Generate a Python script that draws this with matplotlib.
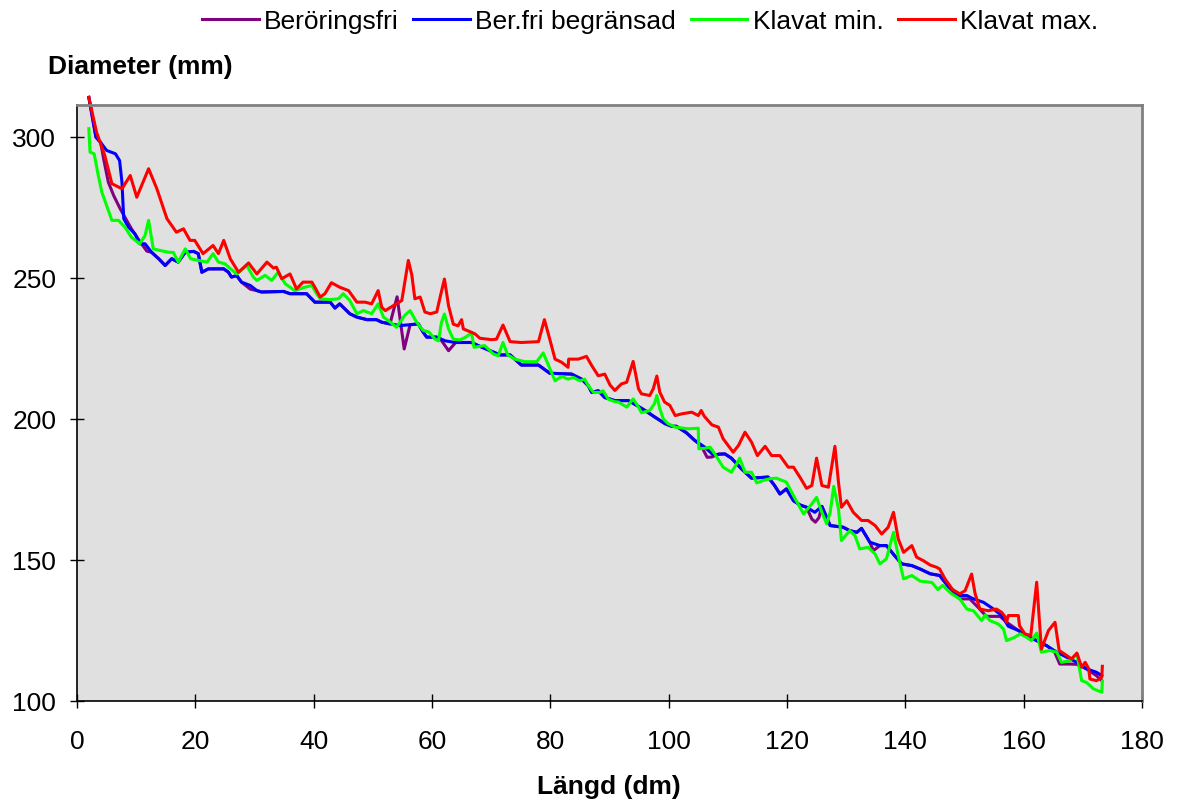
import matplotlib
matplotlib.use("Agg")
import matplotlib.pyplot as plt

plt.rcParams['font.family'] = ['Liberation Sans', 'DejaVu Sans']

# Beröringsfri (purple)
purple_x = [2, 3.2, 4, 4.5, 5.3, 6.2, 7.3, 8.4, 9.2, 10.6, 11.8, 12.6, 13.8, 14.9, 16, 17.1, 18.3, 19.7,
            20.5, 21.1, 22.2, 24.8, 25.6, 26.1, 27, 27.8, 29.3, 30.4, 31.2, 34.9, 36, 38.8, 40.2, 42.8,
            43.6, 44.4, 46.1, 47.3, 49, 50.6, 51.5, 52.9, 54.1, 55.3, 56.3, 57.7, 58.5, 59.1, 60.8,
            61.6, 62.8, 64, 66.7, 67.8, 69.8, 71.5, 73.2, 74, 75.1, 78, 79.9, 83.6, 85.3, 86.4, 87,
            88.1, 89.2, 90.9, 93.2, 94.6, 96, 97.7, 99.4, 100.5, 101.3, 103, 104.4, 105.5, 106.5,
            107.3, 108.5, 109.5, 110.6, 112.3, 114, 116.8, 117.9, 118.8, 119.9, 121.1, 122.2, 123.3,
            124.2, 124.8, 125.4, 125.9, 127.3, 129.5, 130.6, 131.8, 132.6, 134, 134.6, 135.7, 136.8,
            138.2, 139.4, 141.1, 142.5, 144.2, 145.8, 147.3, 149.2, 150.9, 152.3, 153.7, 156, 157.4,
            159.1, 160.5, 162.2, 163.9, 165.2, 166.1, 167.8, 169, 170.6, 172.3, 173.2]
purple_y = [314, 299.9, 298, 292.2, 283.9, 279.2, 274.5, 270.4, 267.4, 263, 259.5, 259.1, 256.8, 254.4,
            256.8, 255.6, 259.1, 259.4, 258.6, 252, 253.2, 253.2, 252, 250.3, 250.8, 248.5, 246, 245.5,
            245, 245.2, 244.4, 244.4, 241.4, 241.4, 239.3, 240.8, 237.3, 236.1, 235.2, 235.2, 234.3,
            233.7, 243.3, 224.8, 233.4, 233.7, 230.8, 229, 229, 227.8, 224.2, 227.1, 227.1, 226,
            224.2, 222.7, 222.7, 221.2, 219.1, 219.1, 216.2, 215.9, 214.1, 211.8, 209.4, 210, 207.6,
            206.5, 206.5, 204.8, 203, 200.6, 198.3, 197.4, 197.4, 195.1, 192.4, 190.5, 186.4, 186.5,
            187.6, 187.6, 186.1, 182.3, 179, 179.4, 176.4, 173.4, 175.2, 171, 169.5, 168.7, 164.5,
            163.4, 165, 169, 162.2, 161.6, 160.4, 159.8, 161.2, 156.3, 153.3, 155.1, 155.1, 151.5,
            148.6, 148, 146.8, 145.1, 144.5, 140.5, 136.2, 136.2, 133.2, 130, 130, 127.5, 125, 123.2,
            121.4, 119.6, 117.5, 113.1, 113.1, 113, 111.4, 109, 107.2]

# Ber.fri begränsad (blue)
blue_x = [2, 3.2, 4, 5, 6.5, 7.2, 7.6, 7.9, 8.7, 9.8, 10.6, 11.5, 12.6, 13.8, 14.9, 16, 17.1, 18.3,
          19.7, 20.5, 21.1, 22.2, 24.8, 25.6, 26.1, 27, 27.8, 29.3, 30.4, 31.2, 34.9, 36, 38.8, 40.2,
          42.8, 43.6, 44.4, 46.1, 47.3, 49, 50.6, 51.5, 52.9, 54.6, 56.3, 57.7, 58.5, 59.1, 60.8,
          62.2, 63.9, 66.7, 67.8, 69.8, 71.5, 73.2, 74, 75.1, 78, 79.9, 83.6, 85.3, 86.4, 87, 88.1,
          89.2, 90.9, 93.2, 94.6, 96, 97.7, 99.4, 100.5, 101.3, 103, 104.4, 106.1, 107.5, 109.5,
          110.6, 112.3, 114, 116.8, 117.9, 118.8, 119.9, 121.1, 122.2, 123.3, 124.7, 125.9, 127.3,
          129.5, 130.6, 131.8, 132.6, 134, 135.7, 136.8, 138.2, 139.4, 141.1, 142.5, 144.2, 145.8,
          147.3, 149.2, 150.4, 151.5, 153.2, 154.9, 156.3, 157.4, 159.1, 160.5, 162.2, 163.9, 165.6,
          167.3, 169, 170.6, 172.3, 173.2]
blue_y = [314, 299.9, 298, 295.2, 294, 291.6, 283.9, 271, 268, 265.6, 262.1, 262.1, 259.1, 256.8,
          254.4, 256.8, 255.6, 259.1, 259.4, 258.6, 252, 253.2, 253.2, 252, 250.3, 250.8, 248.5,
          247.3, 245.5, 245, 245.2, 244.4, 244.4, 241.4, 241.4, 239.3, 240.8, 237.3, 236.1, 235.2,
          235.2, 234.3, 233.7, 233.1, 233.4, 233.7, 230.8, 229, 229, 227.7, 227.1, 227.1, 226, 224.2,
          222.7, 222.7, 221.2, 219.1, 219.1, 216.2, 215.9, 214.1, 211.8, 209.4, 210, 207.6, 206.5,
          206.5, 204.8, 203, 200.6, 198.3, 197.4, 197.4, 195.1, 192.4, 190, 187.3, 187.6, 186.1,
          182.3, 179, 179.4, 176.4, 173.4, 175.2, 171, 169.5, 168.7, 166.9, 169, 162.2, 161.6, 160.4,
          159.8, 161.2, 156.3, 155.1, 155.1, 151.5, 148.6, 148, 146.8, 145.1, 144.5, 140.5, 137.4,
          137.4, 136.2, 135, 132.6, 130.3, 126.5, 125, 123.2, 121.4, 119.6, 117.3, 115.5, 113.7,
          111.4, 110.2, 109]

# Klavat min. (green)
green_x = [2, 2.2, 2.9, 3.6, 4.2, 5, 5.9, 7, 8.1, 9.2, 10.6, 11.5, 12.1, 12.9, 14.1, 15.5, 16.3, 17.1,
           18.3, 19.2, 20.5, 22, 23, 23.9, 25, 25.9, 27, 28.7, 29.8, 30.4, 31.8, 32.9, 34, 35.2, 36.8,
           38.5, 39.7, 40.5, 41.1, 42.8, 44.2, 45, 46.1, 47.3, 48.4, 49.8, 50.9, 51.8, 52.6, 54, 55.4,
           56.3, 57.4, 58.5, 59.5, 60.5, 61.1, 61.6, 62.1, 62.8, 63.6, 64.7, 65.6, 66.7, 67.1, 68.9,
           70.4, 71.2, 72, 72.8, 74, 75.7, 77.7, 78.8, 79.7, 80.8, 81.9, 83, 83.9, 85, 85.8, 86.4,
           87.3, 88.4, 88.9, 89.8, 90.9, 91.5, 92.9, 94, 94.9, 95.4, 96.8, 97.6, 98, 98.5, 99.1, 99.9,
           101.1, 103.3, 105, 105.1, 106.1, 107, 107.8, 109.2, 110.6, 111.5, 112, 112.9, 114, 114.9,
           116, 117.1, 118.2, 119.9, 121.1, 122.8, 124.2, 125, 125.9, 126.7, 127.3, 127.9, 128.7,
           129.2, 130.6, 131.5, 132.3, 133.7, 134.9, 135.7, 136.8, 138, 138.8, 139.7, 141.1, 142.5,
           144.5, 145.5, 146.3, 147.8, 149.2, 150.4, 151.5, 152.9, 153.5, 154.3, 155.7, 156.6, 157.1,
           158.5, 159.4, 160.5, 161.3, 162.2, 163, 164.4, 165.6, 166.4, 167.8, 169, 169.8, 170.6,
           171.8, 173.2, 173.3]
green_y = [302.9, 294.6, 294, 286.3, 280.4, 275.7, 270.4, 270.4, 268, 264.4, 262.1, 265, 270.4, 260.3,
           259.7, 259.1, 259, 255.6, 260.3, 256.8, 256.2, 255.6, 258.6, 255.6, 255, 253.3, 251.4,
           254.4, 250.3, 249.1, 250.9, 249.1, 252, 247.9, 245.5, 246.7, 247.3, 244.4, 242.6, 242.3,
           242.6, 244.4, 242, 237.3, 238.4, 237.3, 240.8, 236.1, 234.9, 232.5, 236.7, 238.4, 234.3,
           231.4, 230.8, 228.3, 227.7, 234.2, 237.2, 231.9, 228.3, 228, 228.9, 230.5, 225.4, 226,
           223, 222.4, 227.1, 222.7, 221.2, 220.3, 220.3, 223.4, 218.9, 213.5, 215.1, 214.1, 214.7,
           213.5, 214.1, 211.8, 209.4, 209.4, 210, 207, 206.1, 206, 204.2, 207.1, 204.2, 202.2, 203,
           205.4, 208.3, 203.6, 200, 198.3, 197.1, 196.5, 196.7, 189.4, 189.6, 190, 187.6, 182.9,
           181.1, 184.1, 186.1, 181.1, 181.1, 177.3, 178.2, 178.8, 179, 177.6, 172.8, 166.3, 169.9,
           172.2, 166.9, 162.8, 166.9, 176.1, 168.1, 156.9, 160.4, 158.6, 153.9, 154.5, 152.1, 148.6,
           150.4, 159.8, 151.5, 143.3, 144.5, 142.5, 142, 139.5, 141, 138, 136.2, 132.6, 132, 128.5,
           130.5, 128.5, 127.3, 125.5, 121.4, 122.6, 123.8, 122.6, 121.4, 124.1, 117.3, 117.9, 117.3,
           113.7, 114.3, 116.7, 107.2, 106.6, 104.3, 103.1, 107]

# Klavat max. (red)
red_x = [2, 3.3, 4.7, 5.9, 7.6, 9, 10.1, 12.1, 13.5, 15.2, 16.8, 18, 19.1, 19.9, 21.3, 23, 23.9, 24.8,
         25.9, 27.3, 29, 30.4, 32.1, 33.2, 33.7, 34.6, 36, 37.1, 38.2, 39.7, 40.2, 41.1, 41.9, 43,
         44.4, 45.9, 47.3, 48.7, 49.8, 50.9, 51.5, 52.1, 53.5, 54.9, 55.4, 56, 56.6, 57.1, 58, 58.8,
         59.7, 60.8, 61.3, 62.1, 62.8, 63.6, 64.4, 65, 65.3, 66.7, 67.3, 68.1, 70.1, 70.9, 72, 73.2,
         75.1, 78, 79, 79.9, 80.8, 81.9, 82.5, 83, 83.1, 84.7, 85.6, 86.1, 87, 88.1, 89.2, 90.1,
         90.9, 92, 92.9, 94, 94.9, 95.4, 96.8, 97.4, 98, 98.5, 99.3, 100.2, 101.1, 102.2, 103.9, 105,
         105.5, 106, 107.3, 108.4, 109.2, 110.9, 111.8, 112.9, 114, 115, 116.3, 117.4, 118.8, 120.2,
         121.1, 122.2, 123.3, 124.2, 125, 125.9, 127, 128.1, 128.7, 129.2, 130.1, 131.2, 132.6,
         133.7, 134.9, 136, 137.1, 138, 138.8, 139.7, 141.1, 141.9, 143, 144.2, 145.3, 145.8, 146.7,
         148, 149.2, 150.1, 151.2, 151.8, 152.6, 154, 155.4, 156.3, 156.8, 157.1, 157.4, 159.1,
         159.3, 160.2, 161.2, 162.2, 163, 164.2, 165.3, 166, 167.3, 168.1, 169, 169.8, 170.4, 171,
         171.2, 172.3, 173.2, 173.3]
red_y = [314, 301.7, 293.4, 283.4, 281.6, 286.3, 278.6, 288.7, 281.6, 271, 266.2, 267.4, 263.3, 263.3,
         258.6, 261.5, 258.6, 263.3, 256.8, 252, 255.3, 251.4, 255.6, 253.5, 253.8, 249.7, 251.4,
         246.1, 248.5, 248.5, 246.7, 243.2, 244.4, 248.3, 246.7, 245.5, 241.4, 241.4, 240.8, 245.5,
         239.6, 238.4, 240.2, 242, 248.5, 256.2, 250.9, 242.6, 243.2, 237.9, 237.3, 237.9, 242.5,
         249.6, 240.1, 233.6, 233, 235.2, 231.9, 230.7, 230.1, 228.6, 228.1, 228.3, 233.3, 227.4,
         227.1, 227.4, 235.2, 228.3, 221.2, 220.1, 219.1, 218.3, 221.2, 221.2, 221.8, 222.2, 218.9,
         215.3, 215.9, 212, 210.1, 212.4, 213, 220.4, 210.7, 208.9, 208.3, 210.7, 215.2, 209.5, 206,
         204.8, 201.2, 201.8, 202.4, 201.2, 203, 201, 197.9, 197.1, 193, 188.2, 190.6, 195.3, 191.8,
         187, 190.3, 187, 187, 182.9, 182.9, 179.3, 175.4, 176.4, 186.1, 176.4, 175.8, 190.3, 177.6,
         168.7, 171, 166.9, 164, 164, 162.2, 159.2, 161.6, 166.9, 157.5, 152.7, 155.1, 151, 149.8,
         148.2, 147.4, 146.8, 143.3, 139.5, 138, 139.1, 145, 138, 132.6, 132, 132.6, 131.4, 130,
         127.9, 130.3, 130.3, 126.7, 123.8, 123.2, 142.1, 118.4, 125, 127.9, 117.9, 116.1, 114.9,
         117, 112, 113.7, 111.4, 107.8, 107.2, 108.4, 112.3]

fig = plt.figure(figsize=(11.83, 8.04), dpi=100)
ax = fig.add_axes([77 / 1183, 1 - 702 / 804, (1142 - 77) / 1183, (702 - 106) / 804])
ax.set_facecolor('#E0E0E0')

lw = 2.2
ax.plot(purple_x, purple_y, color='#800080', lw=lw, label='Beröringsfri', clip_on=False, solid_joinstyle='round')
ax.plot(blue_x, blue_y, color='#0000FF', lw=lw, label='Ber.fri begränsad', clip_on=False, solid_joinstyle='round')
ax.plot(green_x, green_y, color='#00FF00', lw=lw, label='Klavat min.', clip_on=False, solid_joinstyle='round')
ax.plot(red_x, red_y, color='#FF0000', lw=lw, label='Klavat max.', clip_on=False, solid_joinstyle='round')

ax.set_xlim(0, 180)
ax.set_ylim(100, 311.3)
ax.set_xticks(range(0, 181, 20))
ax.set_yticks(range(100, 301, 50))
ax.tick_params(direction='inout', length=10, width=1, labelsize=19, color='black')
ax.tick_params(axis='x', pad=15)
ax.tick_params(axis='y', pad=10)

for side in ['top', 'right']:
    ax.spines[side].set_color('#808080')
    ax.spines[side].set_linewidth(2)
for side in ['left', 'bottom']:
    ax.spines[side].set_color('black')
    ax.spines[side].set_linewidth(1.2)

fig.text(48 / 1183, 1 - 67 / 804, 'Diameter (mm)', fontsize=19, fontweight='bold', ha='left', va='center')
fig.text(609 / 1183, 1 - 787 / 804, 'Längd (dm)', fontsize=19, fontweight='bold', ha='center', va='center')

fig.legend(loc='center', bbox_to_anchor=(650 / 1183, 1 - 22 / 804), ncol=4, frameon=False,
           fontsize=19, handlelength=2.15, handletextpad=0.2, columnspacing=0.55)

fig.savefig('out.png', dpi=100)
